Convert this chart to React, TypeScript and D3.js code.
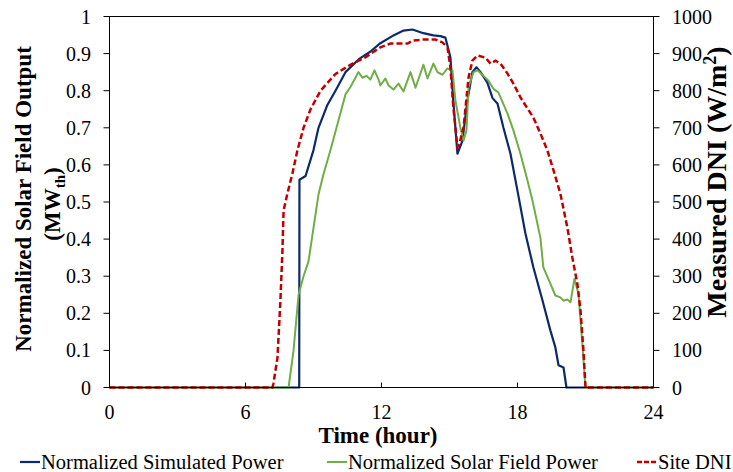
import React from 'react'
import * as d3 from 'd3'

// time axis ticks (hours)
const hourTicks = [0, 6, 12, 18, 24]
const leftTicks = [0, 0.1, 0.2, 0.3, 0.4, 0.5, 0.6, 0.7, 0.8, 0.9, 1]
const rightTicks = [0, 100, 200, 300, 400, 500, 600, 700, 800, 900, 1000]

// Normalized Simulated Power
const simTime = [0, 8.37, 8.38, 8.65, 9.0, 9.22, 9.6, 9.97, 10.41, 11.0, 11.5, 11.95, 12.53, 12.97, 13.37, 13.85, 14.29, 14.6, 14.82, 15.04, 15.17, 15.35, 15.57, 15.79, 16.01, 16.19, 16.37, 16.67, 16.9, 17.12, 17.38, 17.69, 18.0, 18.35, 18.7, 19.1, 19.45, 19.67, 19.81, 20.03, 20.16, 24]
const simPower = [0, 0, 0.56, 0.57, 0.64, 0.70, 0.76, 0.80, 0.85, 0.885, 0.905, 0.928, 0.949, 0.962, 0.965, 0.955, 0.949, 0.947, 0.943, 0.89, 0.77, 0.63, 0.665, 0.774, 0.85, 0.863, 0.85, 0.822, 0.78, 0.765, 0.70, 0.63, 0.53, 0.415, 0.324, 0.235, 0.154, 0.108, 0.06, 0.054, 0, 0]

// Normalized Solar Field Power
const fieldTime = [0, 7.9, 8.12, 8.34, 8.56, 8.78, 9.0, 9.22, 9.44, 9.75, 9.97, 10.19, 10.41, 10.63, 10.85, 10.98, 11.16, 11.34, 11.51, 11.69, 11.87, 11.95, 12.17, 12.31, 12.53, 12.75, 12.97, 13.28, 13.5, 13.85, 14.03, 14.29, 14.47, 14.69, 14.91, 15.13, 15.26, 15.48, 15.62, 15.75, 15.84, 16.06, 16.23, 16.5, 16.72, 16.94, 17.16, 17.56, 17.82, 18.13, 18.44, 18.66, 19.01, 19.14, 19.45, 19.67, 19.89, 20.03, 20.2, 20.34, 20.51, 20.69, 20.86, 21.0, 24]
const fieldPower = [0, 0, 0.10, 0.25, 0.30, 0.34, 0.43, 0.52, 0.575, 0.64, 0.69, 0.74, 0.79, 0.81, 0.835, 0.85, 0.835, 0.84, 0.83, 0.855, 0.83, 0.814, 0.833, 0.814, 0.803, 0.819, 0.798, 0.85, 0.808, 0.87, 0.833, 0.873, 0.85, 0.843, 0.86, 0.855, 0.774, 0.70, 0.666, 0.693, 0.81, 0.85, 0.855, 0.84, 0.827, 0.805, 0.795, 0.738, 0.693, 0.63, 0.558, 0.504, 0.404, 0.324, 0.28, 0.248, 0.243, 0.234, 0.237, 0.23, 0.293, 0.253, 0.119, 0, 0]

// Site DNI (W/m2)
const dniTime = [0, 7.19, 7.23, 7.41, 7.54, 7.63, 7.68, 7.85, 8.07, 8.29, 8.56, 8.87, 9.31, 9.97, 10.63, 11.29, 11.95, 12.4, 13.15, 13.37, 13.85, 14.38, 14.69, 14.91, 15.04, 15.17, 15.35, 15.44, 15.62, 15.84, 16.01, 16.23, 16.59, 16.81, 17.03, 17.25, 17.56, 17.82, 18.13, 18.44, 18.7, 19.01, 19.32, 19.59, 19.89, 20.2, 20.42, 20.64, 20.78, 20.91, 21.0, 24]
const dni = [0, 0, 10, 80, 234, 369, 477, 523, 577, 639, 700, 750, 800, 845, 870, 890, 917, 927, 927, 935, 938, 938, 930, 917, 863, 755, 647, 658, 701, 836, 881, 895, 889, 873, 881, 873, 846, 819, 782, 752, 728, 685, 639, 585, 523, 431, 350, 280, 207, 100, 0, 0]

const W = 733, H = 472
const left = 109.5, right = 653.5, top = 16.5, bottom = 387.5
const serif = '"Liberation Serif", "Times New Roman", serif'

const App = () => {
  const x = d3.scaleLinear().domain([0, 24]).range([left, right])
  const yL = d3.scaleLinear().domain([0, 1]).range([bottom, top])
  const yR = d3.scaleLinear().domain([0, 1000]).range([bottom, top])

  const line = d3.line<[number, number]>().x(d => d[0]).y(d => d[1])
  const simPath = line(simTime.map((t, i) => [x(t), yL(simPower[i])]))
  const fieldPath = line(fieldTime.map((t, i) => [x(t), yL(fieldPower[i])]))
  const dniPath = line(dniTime.map((t, i) => [x(t), yR(dni[i])]))

  const midY = (top + bottom) / 2

  return (
    <>
      <style>{'body{margin:0}'}</style>
      <svg width={W} height={H} style={{ display: 'block', background: '#fff' }} fontFamily={serif}>
        {/* series */}
        <path d={simPath || ''} fill='none' stroke='#0c2a6b' strokeWidth={2.2} strokeLinejoin='round' />
        <path d={fieldPath || ''} fill='none' stroke='#70ad47' strokeWidth={2} strokeLinejoin='round' />
        <path d={dniPath || ''} fill='none' stroke='#c00000' strokeWidth={2.5} strokeDasharray='6,3' />

        {/* frame */}
        <rect x={left} y={top} width={right - left} height={bottom - top} fill='none' stroke='#000' strokeWidth={1} />

        {/* x axis */}
        {hourTicks.map(t => (
          <g key={'x' + t}>
            {t > 0 && t < 24 && <line x1={x(t)} x2={x(t)} y1={bottom} y2={bottom - 5} stroke='#000' />}
            <text x={x(t)} y={419} textAnchor='middle' fontSize={20}>{t}</text>
          </g>
        ))}

        {/* left axis */}
        {leftTicks.map(v => (
          <g key={'l' + v}>
            <line x1={left - 6} x2={left} y1={yL(v)} y2={yL(v)} stroke='#000' />
            <text x={91} y={yL(v)} dy='0.35em' textAnchor='end' fontSize={20}>{v}</text>
          </g>
        ))}

        {/* right axis */}
        {rightTicks.map(v => (
          <g key={'r' + v}>
            <line x1={right} x2={right + 6} y1={yR(v)} y2={yR(v)} stroke='#000' />
            <text x={672} y={yR(v)} dy='0.35em' textAnchor='start' fontSize={20}>{v}</text>
          </g>
        ))}

        {/* axis titles */}
        <g transform={`translate(31,${midY - 3}) rotate(-90)`}>
          <text textAnchor='middle' fontSize={23} fontWeight='bold'>Normalized Solar Field Output</text>
        </g>
        <g transform={`translate(60,${midY + 2}) rotate(-90)`}>
          <text textAnchor='middle' fontSize={23} fontWeight='bold'>
            (MW<tspan fontSize={15} dy={5}>th</tspan><tspan dy={-5}>)</tspan>
          </text>
        </g>
        <g transform={`translate(726,${midY - 20}) rotate(-90)`}>
          <text textAnchor='middle' fontSize={28} fontWeight='bold'>
            Measured DNI (W/m<tspan fontSize={18} dy={-10}>2</tspan><tspan dy={10}>)</tspan>
          </text>
        </g>
        <text x={378} y={443} textAnchor='middle' fontSize={23} fontWeight='bold'>Time (hour)</text>

        {/* legend */}
        <line x1={20} x2={40} y1={462} y2={462} stroke='#0c2a6b' strokeWidth={2.2} />
        <text x={41} y={469} fontSize={20.5}>Normalized Simulated Power</text>
        <line x1={327} x2={347} y1={462} y2={462} stroke='#70ad47' strokeWidth={2} />
        <text x={348} y={469} fontSize={20.5}>Normalized Solar Field Power</text>
        <line x1={637} x2={657} y1={462} y2={462} stroke='#c00000' strokeWidth={2.5} strokeDasharray='5,2' />
        <text x={658} y={469} fontSize={20.5}>Site DNI</text>
      </svg>
    </>
  )
}

export default App
